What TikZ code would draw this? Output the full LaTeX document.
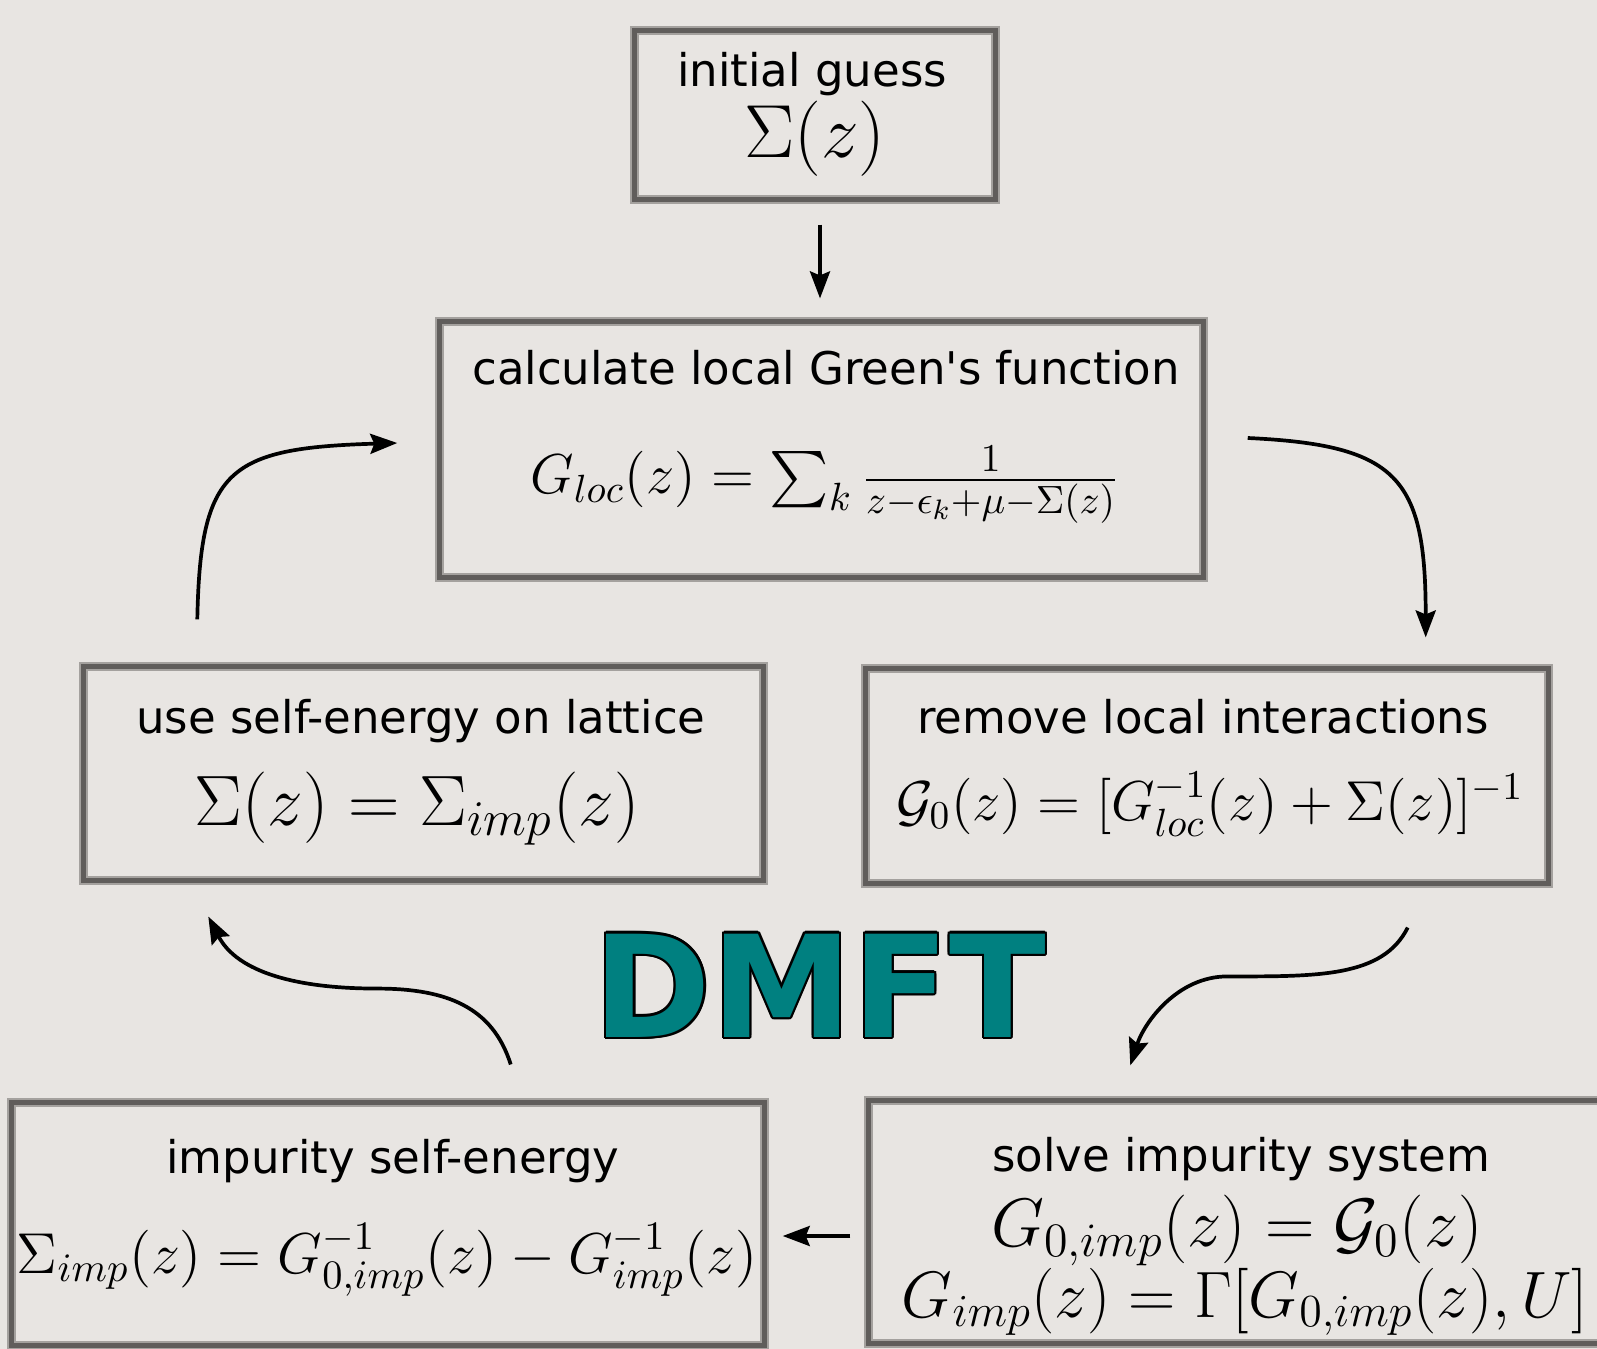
\RequirePackage{fix-cm}
\documentclass[tikz,border=0pt]{standalone}
\usepackage[no-math]{fontspec}
\setmainfont{DejaVu Sans}
\usepackage{amsmath}
\usepackage{amssymb}
\usepackage{tikz}
\usetikzlibrary{arrows.meta, calc}

\definecolor{paper}{RGB}{232,229,226}
\definecolor{frame}{RGB}{96,93,91}
\definecolor{dmftteal}{RGB}{0,128,128}

\begin{document}
\begin{tikzpicture}[x=0.01cm, y=-0.01cm,
  stepbox/.style={rectangle, draw=frame, line width=0.05cm, inner sep=0pt,
                  preaction={draw=frame!50!paper, line width=0.09cm}},
  lbl/.style={inner sep=0pt, anchor=base, font=\fontsize{12.8}{15}\selectfont},
  eq/.style={inner sep=0pt, anchor=base},
  arr/.style={-{Stealth[length=0.27cm, width=0.2cm, inset=0.04cm]}, line width=0.037cm, black}]

  \clip (0,0) rectangle (1597,1349);
  \fill[paper] (0,0) rectangle (1597,1349);

  \node[stepbox, minimum width=3.60cm, minimum height=1.68cm] at (815,115) (guess) {};
  \node[stepbox, minimum width=7.63cm, minimum height=2.55cm] at (821.5,449.5) (green) {};
  \node[stepbox, minimum width=6.79cm, minimum height=2.13cm] at (423.5,773.5) (lattice) {};
  \node[stepbox, minimum width=6.82cm, minimum height=2.14cm] at (1207,776) (remove) {};
  \node[stepbox, minimum width=7.52cm, minimum height=2.42cm] at (388,1224) (impse) {};
  \node[stepbox, minimum width=7.71cm, minimum height=2.42cm] at (1254.5,1222) (solve) {};

  \node[lbl] at (812,87) (guessT) {initial guess};
  \node[eq, font=\fontsize{21.4}{25}\selectfont] at (815,158) (guessE) {$\Sigma(z)$};

  \node[lbl] at (826,385) (greenT) {calculate local Green\textquotesingle s function};
  \node[eq, font=\fontsize{16}{19}\selectfont] at (825,494) (greenE)
    {$G_{loc}(z) = \sum_k \frac{1}{z-\epsilon_k+\mu-\Sigma(z)}$};

  \node[lbl] at (421,733) (latticeT) {use self-energy on lattice};
  \node[eq, font=\fontsize{20.3}{24}\selectfont] at (417,825) (latticeE)
    {$\Sigma(z) = \Sigma_{imp}(z)$};

  \node[lbl] at (1203,733) (removeT) {remove local interactions};
  \node[eq, font=\fontsize{16}{19}\selectfont] at (1210,820) (removeE)
    {$\mathcal{G}_0(z) = [G^{-1}_{loc}(z) + \Sigma(z)]^{-1}$};

  \node[lbl] at (393,1173) (impseT) {impurity self-energy};
  \node[eq, font=\fontsize{16.4}{19}\selectfont] at (387,1273) (impseE)
    {$\Sigma_{imp}(z) = G^{-1}_{0,imp}(z) - G^{-1}_{imp}(z)$};

  \node[lbl] at (1241,1171) (solveT) {solve impurity system};
  \node[eq, font=\fontsize{19.5}{23}\selectfont] at (1237,1246) (solveE)
    {$G_{0,imp}(z) = \mathcal{G}_0(z)$};
  \node[eq, font=\fontsize{18.65}{22}\selectfont] at (1245,1317) (solveF)
    {$G_{imp}(z) = \Gamma[G_{0,imp}(z), U]$};

  \foreach \a in {0,30,...,330}
    \node[eq, font=\fontsize{40.3}{48}\selectfont\bfseries, text=black]
      at ($(820,1037)+(\a:2.3)$) (dmft\a) {DMFT};
  \node[eq, font=\fontsize{40.3}{48}\selectfont\bfseries, text=dmftteal] at (820,1037) (dmft) {DMFT};

  \coordinate (guessOut)   at ($(guess.south)+(5,23)$);
  \coordinate (greenIn)    at ($(green.north)+(-1.5,-21)$);
  \coordinate (latticeOut) at ($(lattice.north west)+(116,-45)$);
  \coordinate (greenLeft)  at ($(green.west)+(-40,-6.5)$);
  \coordinate (greenOut)   at ($(green.east)+(42,-11.5)$);
  \coordinate (removeIn)   at ($(remove.north east)+(-125,-29)$);
  \coordinate (removeOut)  at ($(remove.south east)+(-143,42)$);
  \coordinate (solveIn)    at ($(solve.north west)+(264,-33)$);
  \coordinate (solveOut)   at ($(solve.west)+(-16,14)$);
  \coordinate (impseIn)    at ($(impse.east)+(16,12)$);
  \coordinate (impseOut)   at ($(impse.north east)+(-256,-36)$);
  \coordinate (latticeIn)  at ($(lattice.south west)+(127,34)$);

  \draw[arr] (guessOut) -- (greenIn);
  \draw[arr] (greenOut) .. controls +(150,7) and +(0,-160) .. (removeIn);
  \draw[arr] (removeOut) .. controls +(-25,50) and +(90,0) .. ($(solveIn)+(97,-89)$)
                         .. controls +(-50,0) and +(14,-43) .. (solveIn);
  \draw[arr] (solveOut) -- (impseIn);
  \draw[arr] (impseOut) .. controls +(-18,-57) and +(70,0) .. ($(latticeIn)+(169,72)$)
                        .. controls +(-80,0) and +(29,56) .. (latticeIn);
  \draw[arr] (latticeOut) .. controls +(3,-150) and +(-170,5) .. (greenLeft);

\end{tikzpicture}
\end{document}
